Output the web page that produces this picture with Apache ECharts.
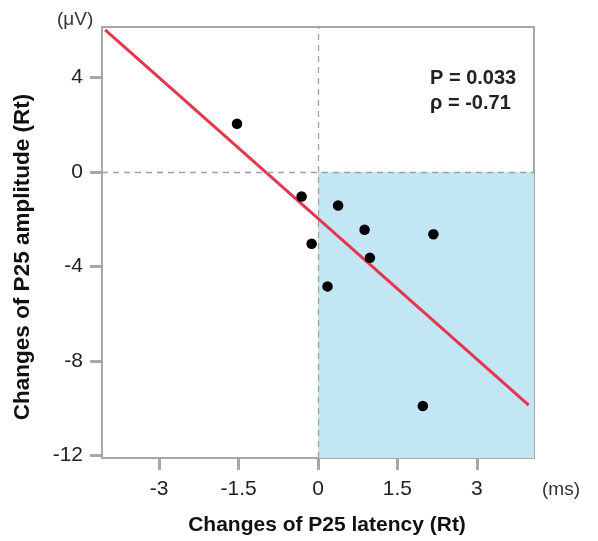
<!DOCTYPE html>
<html>
<head>
<meta charset="utf-8">
<style>
  html, body { margin: 0; padding: 0; background: #fff; }
  #chart { width: 598px; height: 541px; }
</style>
<script src="https://cdn.jsdelivr.net/npm/echarts@6/dist/echarts.min.js"></script>
</head>
<body>
<div id="chart"></div>
<script>
// Change in P25 latency (ms) vs change in P25 amplitude (µV), right side
const latencyChange = [-1.53, -0.31, -0.12, 0.18, 0.38, 0.88, 0.98, 2.18, 1.98];
const amplitudeChange = [2.04, -1.04, -3.04, -4.85, -1.42, -2.45, -3.64, -2.64, -9.92];

// Regression line end points
const fitX = [-4.02, 3.98];
const fitY = [6.02, -9.88];

// Axis ranges and tick labels
const xRange = [-4.08, 4.08];
const yRange = [-12.12, 6.14];
const xTicks = [-3, -1.5, 0, 1.5, 3];
const yTicks = [4, 0, -4, -8, -12];

const statLines = ['P = 0.033', 'ρ = -0.71'];
const xTitle = 'Changes of P25 latency (Rt)';
const yTitle = 'Changes of P25 amplitude (Rt)';
const xUnit = '(ms)';
const yUnit = '(μV)';

const FONT = '"Liberation Sans", Arial, sans-serif';
const AXIS_GREY = '#a7a7a7';

const chart = echarts.init(document.getElementById('chart'), null, { renderer: 'canvas' });

const points = latencyChange.map((x, i) => [x, amplitudeChange[i]]);
const fitLine = fitX.map((x, i) => [x, fitY[i]]);

chart.setOption({
  animation: false,
  backgroundColor: '#ffffff',
  grid: {
    left: 102, right: 64, top: 27, bottom: 83,
    show: true, borderColor: AXIS_GREY, borderWidth: 2, backgroundColor: 'transparent'
  },
  xAxis: {
    type: 'value',
    min: xRange[0], max: xRange[1],
    splitLine: { show: false },
    axisLine: { show: true, onZero: false, lineStyle: { color: AXIS_GREY, width: 2 } },
    axisTick: { show: true, customValues: xTicks, length: 12, lineStyle: { color: AXIS_GREY, width: 3 } },
    axisLabel: {
      customValues: xTicks, margin: 21, fontSize: 21, color: '#222', fontFamily: FONT,
      formatter: v => String(v)
    }
  },
  yAxis: {
    type: 'value',
    min: yRange[0], max: yRange[1],
    splitLine: { show: false },
    axisLine: { show: true, onZero: false, lineStyle: { color: AXIS_GREY, width: 2 } },
    axisTick: { show: true, customValues: yTicks, length: 12, lineStyle: { color: AXIS_GREY, width: 3 } },
    axisLabel: {
      customValues: yTicks, margin: 19, fontSize: 21, color: '#222', fontFamily: FONT,
      formatter: v => String(v)
    }
  },
  series: [
    {
      type: 'line',
      data: fitLine,
      symbol: 'none',
      z: 2,
      lineStyle: { color: '#e5364d', width: 3 },
      markArea: {
        silent: true,
        itemStyle: { color: '#c3e6f4' },
        data: [[{ coord: [0, 0] }, { coord: [xRange[1], yRange[0]] }]]
      },
      markLine: {
        silent: true,
        symbol: 'none',
        label: { show: false },
        lineStyle: { color: '#a0a0a0', width: 1.3, type: [6, 5] },
        data: [{ xAxis: 0 }, { yAxis: 0 }]
      }
    },
    {
      type: 'scatter',
      data: points,
      symbol: 'circle',
      symbolSize: 10.5,
      z: 3,
      itemStyle: { color: '#000000', opacity: 1 }
    }
  ],
  graphic: [
    {
      type: 'text', x: 430, y: 78,
      style: { text: statLines[0], font: 'bold 20px ' + FONT, fill: '#222', textVerticalAlign: 'middle' }
    },
    {
      type: 'text', x: 430, y: 103,
      style: { text: statLines[1], font: 'bold 20px ' + FONT, fill: '#222', textVerticalAlign: 'middle' }
    },
    {
      type: 'text', x: 57, y: 20,
      style: { text: yUnit, font: '19px ' + FONT, fill: '#333', textVerticalAlign: 'middle' }
    },
    {
      type: 'text', x: 542, y: 490,
      style: { text: xUnit, font: '19px ' + FONT, fill: '#333', textVerticalAlign: 'middle' }
    },
    {
      type: 'text', x: 327, y: 525,
      style: { text: xTitle, font: 'bold 21px ' + FONT, fill: '#111', textAlign: 'center', textVerticalAlign: 'middle' }
    },
    {
      type: 'text', x: 23, y: 257, rotation: Math.PI / 2,
      style: { text: yTitle, font: 'bold 22.5px ' + FONT, fill: '#111', textAlign: 'center', textVerticalAlign: 'middle' }
    }
  ]
});
</script>
</body>
</html>
